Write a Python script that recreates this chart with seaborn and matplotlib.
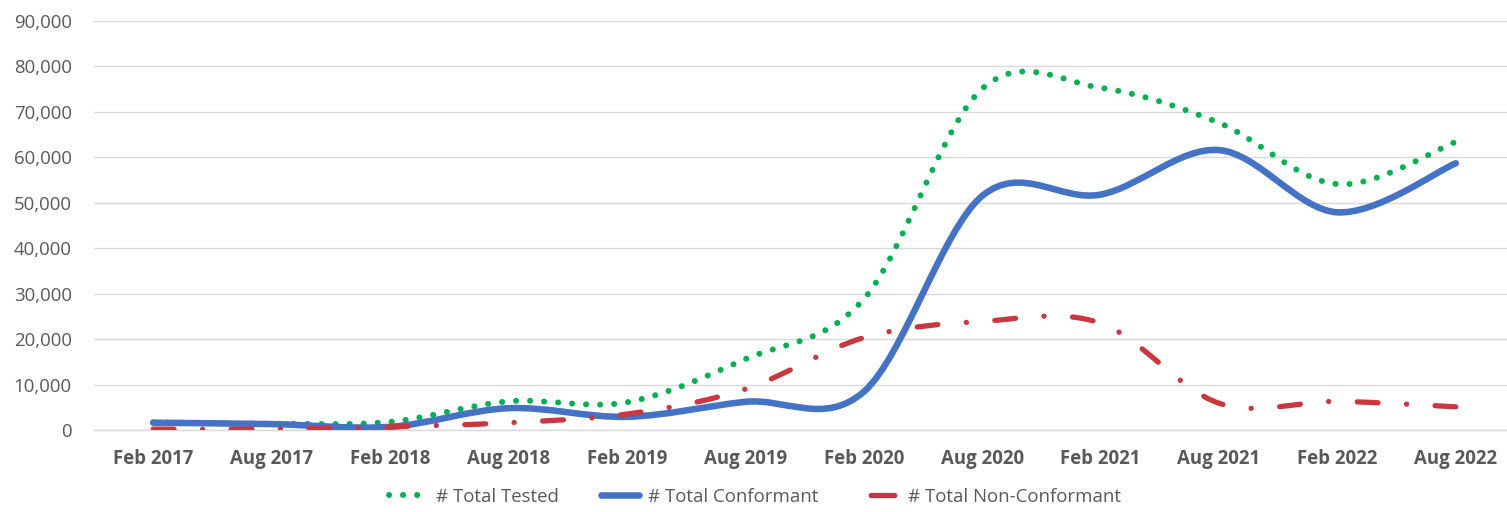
import numpy as np
import pandas as pd
import matplotlib
matplotlib.use('Agg')
import matplotlib.pyplot as plt
import seaborn as sns
from matplotlib.path import Path
from matplotlib.patches import PathPatch
from matplotlib.lines import Line2D
from matplotlib.ticker import FuncFormatter

# Data
periods = ['Feb 2017', 'Aug 2017', 'Feb 2018', 'Aug 2018', 'Feb 2019', 'Aug 2019',
           'Feb 2020', 'Aug 2020', 'Feb 2021', 'Aug 2021', 'Feb 2022', 'Aug 2022']
total_tested = [1700, 1400, 1800, 6300, 6100, 15600, 28800, 75100, 75300, 67600, 54100, 63400]
total_conformant = [1600, 1300, 700, 4800, 2900, 6200, 8400, 51500, 51800, 61600, 47900, 58700]
total_non_conformant = [200, 200, 700, 1600, 3500, 9000, 20300, 23900, 23500, 5900, 6300, 5100]

df = pd.DataFrame({'period': periods,
                   '# Total Tested': total_tested,
                   '# Total Conformant': total_conformant,
                   '# Total Non-Conformant': total_non_conformant})

# Style
sns.set_theme(style='white')
plt.rcParams['font.family'] = ['Open Sans', 'DejaVu Sans']
plt.rcParams['lines.scale_dashes'] = False

text_color = '#595959'
grid_color = '#D9D9D9'

series_styles = {
    '# Total Tested': dict(color='#00B050', lw=4.3, ls=(0, (0.1, 10))),
    '# Total Conformant': dict(color='#4472C4', lw=4.7, ls='-'),
    '# Total Non-Conformant': dict(color='#C9373F', lw=3.8, ls=(0, (15, 20.5, 0.1, 20.5))),
}
# legend swatches (Excel draws a short sample of each line)
legend_ls = {
    '# Total Tested': (0, (0.1, 10)),
    '# Total Conformant': '-',
    '# Total Non-Conformant': (110, (17, 100)),
}


def smooth_path(xs, ys):
    # Excel-like smoothed line: cubic Bezier segments through the data points
    pts = np.column_stack([xs, ys]).astype(float)
    n = len(pts)
    verts = [pts[0]]
    codes = [Path.MOVETO]
    for i in range(n - 1):
        p0 = pts[max(i - 1, 0)]
        p1 = pts[i]
        p2 = pts[i + 1]
        p3 = pts[min(i + 2, n - 1)]
        c1 = p1 + (p2 - p0) / 6.0
        c2 = p2 - (p3 - p1) / 6.0
        verts += [c1, c2, p2]
        codes += [Path.CURVE4] * 3
    return Path(verts, codes)


W, H = 1507, 512
fig = plt.figure(figsize=(W / 100, H / 100), dpi=100)
ax = fig.add_axes([94 / W, 82 / H, 1421 / W, 409 / H])

x = np.arange(len(df))
for name, st in series_styles.items():
    patch = PathPatch(smooth_path(x, df[name].values), fill=False,
                      edgecolor=st['color'], lw=st['lw'], linestyle=st['ls'],
                      capstyle='round', joinstyle='round', zorder=3)
    ax.add_patch(patch)

ax.set_xlim(-0.5, len(df) - 0.5)
ax.set_ylim(0, 90000)
ax.set_yticks(np.arange(0, 90001, 10000))
ax.yaxis.set_major_formatter(FuncFormatter(lambda v, p: f'{v:,.0f}'))
ax.set_xticks(x)
ax.set_xticklabels(df['period'], fontweight='bold')

ax.grid(axis='y', color=grid_color, lw=1.0)
ax.grid(axis='x', visible=False)
ax.set_axisbelow(True)
for s in ['top', 'right', 'left']:
    ax.spines[s].set_visible(False)
ax.spines['bottom'].set_color(grid_color)
ax.spines['bottom'].set_linewidth(1.0)

ax.tick_params(axis='y', length=0, pad=16, labelsize=13.4, labelcolor=text_color)
ax.tick_params(axis='x', length=0, pad=14, labelsize=13.4, labelcolor=text_color)
ax.set_xlabel('')
ax.set_ylabel('')

handles = [Line2D([], [], color=st['color'], lw=st['lw'], ls=legend_ls[name],
                  solid_capstyle='round', dash_capstyle='round')
           for name, st in series_styles.items()]
handles[2].set_color('#C8304C')
fig.legend(handles, list(series_styles.keys()), loc='center',
           bbox_to_anchor=(755 / W, 15 / H), ncol=3, frameon=False,
           fontsize=13.4, labelcolor=text_color, handlelength=2.0,
           handletextpad=0.5, columnspacing=2.3)

fig.savefig('out.png', dpi=100)
